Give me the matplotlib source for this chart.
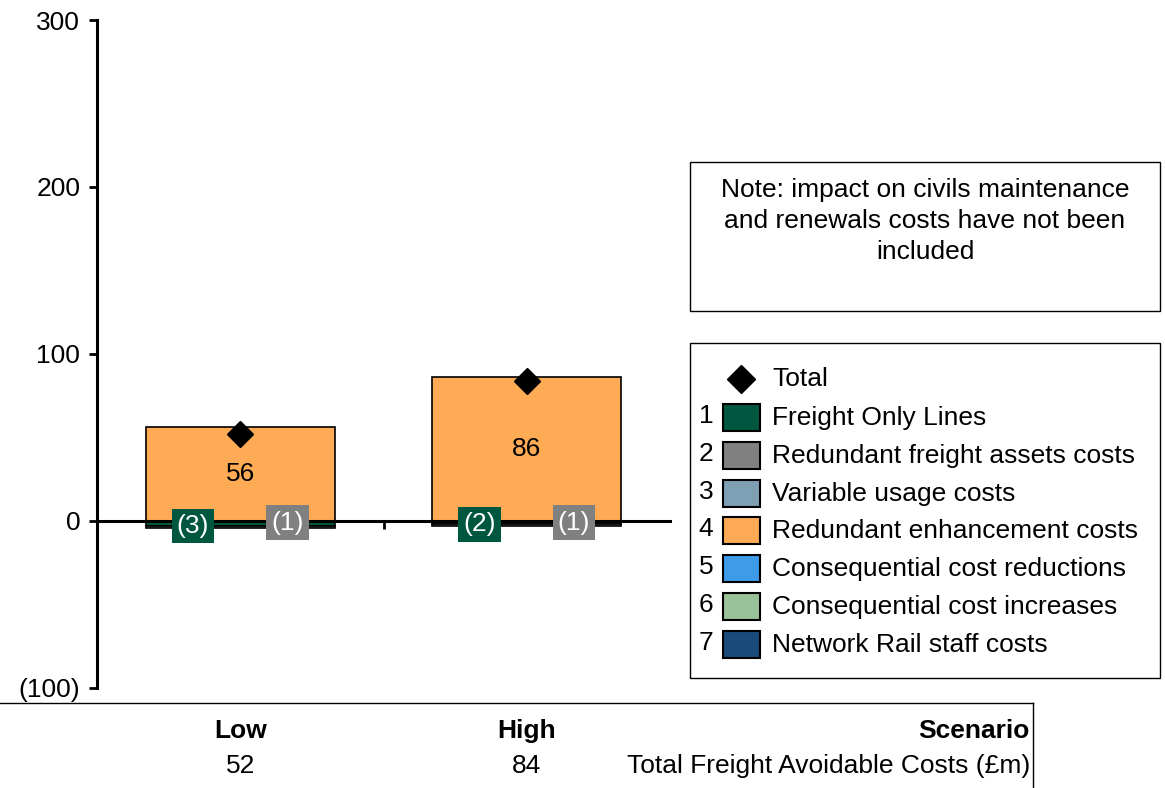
import matplotlib.pyplot as plt
from matplotlib.patches import Rectangle
from matplotlib.lines import Line2D
from matplotlib.ticker import FuncFormatter

plt.rcParams['font.family'] = ['Liberation Sans', 'DejaVu Sans']

scenarios = ['Low', 'High']
totals = [52, 84]
freight_only = [-3, -2]
redundant_assets = [-1, -1]
redundant_enh = [56, 86]

legend_names = ['Freight Only Lines', 'Redundant freight assets costs', 'Variable usage costs',
                'Redundant enhancement costs', 'Consequential cost reductions',
                'Consequential cost increases', 'Network Rail staff costs']
legend_colors = ['#00573f', '#808080', '#7f9fb5', '#ffaa55', '#3d9be9', '#99c299', '#1a4a7a']

FS = 19
W, H = 1165, 788
fig = plt.figure(figsize=(W / 100, H / 100), dpi=100)
ax = fig.add_axes([97 / W, 1 - 688 / H, (670 - 97) / W, (688 - 20) / H])

x = list(range(len(scenarios)))
bw = 0.66
ax.bar(x, redundant_enh, bw, color=legend_colors[3], edgecolor='black', linewidth=1.2, zorder=2)
ax.bar(x, freight_only, bw, color=legend_colors[0], edgecolor='black', linewidth=1.2, zorder=2)
ax.bar(x, redundant_assets, bw, bottom=freight_only, color=legend_colors[1],
       edgecolor='black', linewidth=1.2, zorder=2)
ax.plot(x, totals, 'D', color='black', markersize=13, zorder=4)

for i in x:
    ax.text(i, redundant_enh[i] / 2, str(redundant_enh[i]), ha='center', va='center', fontsize=FS, zorder=5)
    ax.text(i - 0.165, freight_only[i], '(%d)' % abs(freight_only[i]), ha='center', va='center',
            fontsize=FS, color='white', zorder=5,
            bbox=dict(boxstyle='square,pad=0.2', facecolor=legend_colors[0], edgecolor='none'))
    ax.text(i + 0.165, redundant_assets[i], '(%d)' % abs(redundant_assets[i]), ha='center', va='center',
            fontsize=FS, color='white', zorder=5,
            bbox=dict(boxstyle='square,pad=0.2', facecolor=legend_colors[1], edgecolor='none'))

ax.set_xlim(-0.5, 1.5)
ax.set_ylim(-100, 300)
ax.set_yticks([-100, 0, 100, 200, 300])
ax.yaxis.set_major_formatter(FuncFormatter(lambda v, p: '(%d)' % abs(v) if v < 0 else '%d' % v))
ax.set_xticks([0.5])
ax.set_xticklabels([''])
ax.spines['top'].set_visible(False)
ax.spines['right'].set_visible(False)
ax.spines['bottom'].set_position(('data', 0))
ax.spines['left'].set_linewidth(2.2)
ax.spines['bottom'].set_linewidth(2.2)
ax.spines['bottom'].set_zorder(3)
ax.tick_params(axis='y', labelsize=FS, length=6, width=2, direction='out', pad=6)
ax.tick_params(axis='x', length=6, width=2, direction='out')
ax.set_facecolor('none')

# note box
fig.patches.append(Rectangle((690 / W, 1 - 311 / H), 470 / W, 149 / H, transform=fig.transFigure,
                             facecolor='white', edgecolor='black', linewidth=1))
fig.text(925 / W, 1 - 221 / H, 'Note: impact on civils maintenance\nand renewals costs have not been\nincluded',
         ha='center', va='center', fontsize=FS, linespacing=1.37)

# legend box
fig.patches.append(Rectangle((690 / W, 1 - 678 / H), 470 / W, 335 / H, transform=fig.transFigure,
                             facecolor='white', edgecolor='black', linewidth=1))
fig.lines.append(Line2D([741 / W], [1 - 379 / H], marker='D', color='black', markersize=14,
                        transform=fig.transFigure))
fig.text(772 / W, 1 - 379 / H, 'Total', ha='left', va='center', fontsize=FS)
for k, (name, col) in enumerate(zip(legend_names, legend_colors)):
    yc = 418 + k * 37.8
    fig.patches.append(Rectangle((723 / W, 1 - (yc + 13) / H), 37 / W, 27 / H, transform=fig.transFigure,
                                 facecolor=col, edgecolor='black', linewidth=1.5))
    fig.text(706 / W, 1 - (yc - 2) / H, str(k + 1), ha='center', va='center', fontsize=FS)
    fig.text(772 / W, 1 - yc / H, name, ha='left', va='center', fontsize=FS)

# bottom table
fig.lines.append(Line2D([0, 1033 / W], [1 - 703 / H, 1 - 703 / H], color='black', linewidth=1,
                        transform=fig.transFigure))
fig.lines.append(Line2D([1033 / W, 1033 / W], [1 - 703 / H, 0], color='black', linewidth=1,
                        transform=fig.transFigure))
for i, s in enumerate(scenarios):
    xc = ax.transData.transform((i, 0))[0] / W
    fig.text(xc, 1 - 731 / H, s, ha='center', va='center', fontsize=FS, fontweight='bold')
    fig.text(xc, 1 - 766 / H, str(totals[i]), ha='center', va='center', fontsize=FS)
fig.text(1030 / W, 1 - 731 / H, 'Scenario', ha='right', va='center', fontsize=FS, fontweight='bold')
fig.text(1030 / W, 1 - 766 / H, 'Total Freight Avoidable Costs (£m)', ha='right', va='center', fontsize=FS)

fig.savefig('out.png', dpi=100)
